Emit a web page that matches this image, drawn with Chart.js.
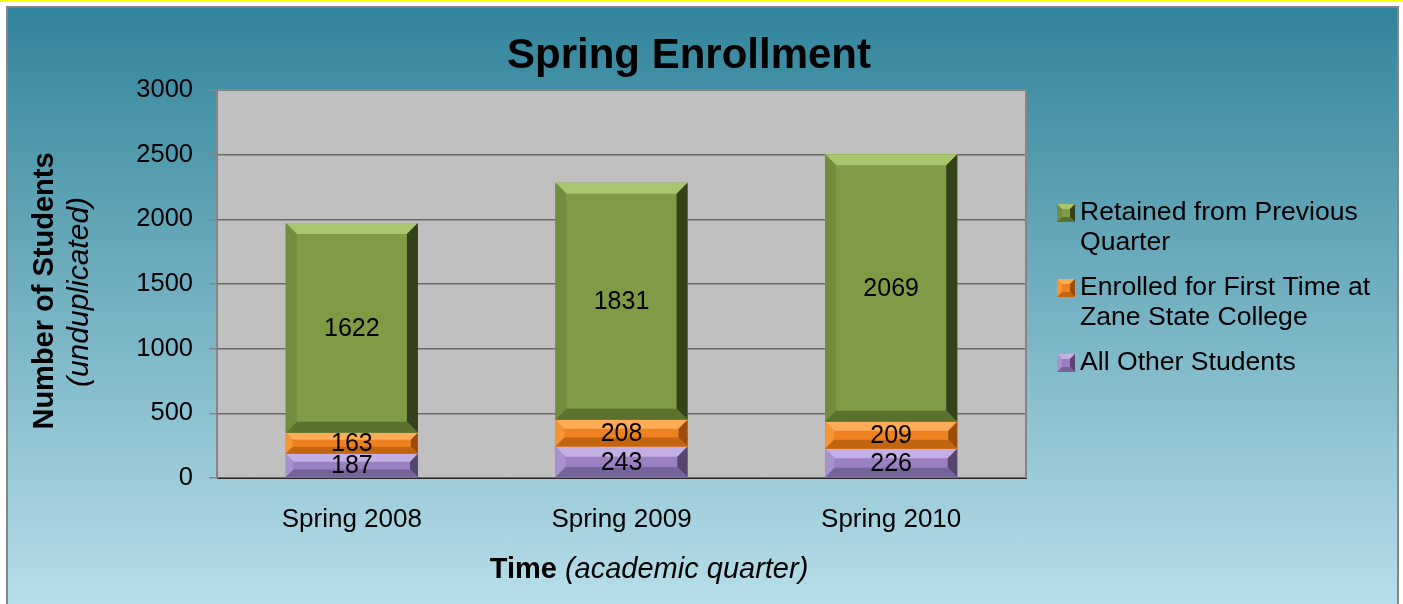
<!DOCTYPE html>
<html>
<head>
<meta charset="utf-8">
<script src="https://cdn.jsdelivr.net/npm/chart.js@4.4.1/dist/chart.umd.min.js"></script>
<style>
  html, body { margin: 0; padding: 0; background: #ffffff; overflow: hidden; }
  body { width: 1403px; height: 604px; position: relative; }
  #topline { position: absolute; left: 0; top: 0; width: 1403px; height: 2px; background: #ffff00; }
  #frame {
    position: absolute; left: 6px; top: 6px; width: 1389px; height: 600px;
    border: 2px solid #858585; border-bottom: none;
    background: linear-gradient(to bottom, #31849b 0%, #b8dfe9 100%);
  }
  canvas { display: block; }
</style>
</head>
<body>
<div id="topline"></div>
<div id="frame"><canvas id="chart" width="1389" height="598"></canvas></div>
<script>
// values
var categories = ['Spring 2008', 'Spring 2009', 'Spring 2010'];
var retained = [1622, 1831, 2069];
var firstTime = [163, 208, 209];
var otherStudents = [187, 243, 226];
var seriesNames = ['All Other Students', 'Enrolled for First Time at Zane State College', 'Retained from Previous Quarter'];
var legendLines = [['All Other Students'], ['Enrolled for First Time at', 'Zane State College'], ['Retained from Previous', 'Quarter']];
var yMax = 3000;
var yStep = 500;

// bevel shades for each series (body, top, left, right, bottom)
var shades = [
  { body: '#9a80c1', top: '#c4aee6', left: '#a892cd', right: '#55456f', bottom: '#76639a' },
  { body: '#ef8220', top: '#ffab58', left: '#f59634', right: '#9c4c0a', bottom: '#c3650f' },
  { body: '#7f9b46', top: '#a8c66e', left: '#728d3d', right: '#34421a', bottom: '#5b722f' }
];

var FONT = '"Liberation Sans", Arial, sans-serif';

function poly(ctx, pts, color) {
  ctx.beginPath();
  ctx.moveTo(pts[0][0], pts[0][1]);
  for (var i = 1; i < pts.length; i++) ctx.lineTo(pts[i][0], pts[i][1]);
  ctx.closePath();
  ctx.fillStyle = color;
  ctx.fill();
}

function bevelBox(ctx, L, T, R, B, b, st) {
  ctx.fillStyle = st.body;
  ctx.fillRect(L, T, R - L, B - T);
  poly(ctx, [[L, T], [R, T], [R - b, T + b], [L + b, T + b]], st.top);
  poly(ctx, [[L, T], [L + b, T + b], [L + b, B - b], [L, B]], st.left);
  poly(ctx, [[R, T], [R, B], [R - b, B - b], [R - b, T + b]], st.right);
  poly(ctx, [[L, B], [R, B], [R - b, B - b], [L + b, B - b]], st.bottom);
}

var plotBg = {
  id: 'plotBg',
  beforeDraw: function(chart) {
    var a = chart.chartArea, ctx = chart.ctx;
    ctx.save();
    ctx.fillStyle = '#c0c0c0';
    ctx.fillRect(a.left, a.top, a.right - a.left, a.bottom - a.top);
    ctx.restore();
  },
  afterDraw: function(chart) {
    var a = chart.chartArea, ctx = chart.ctx;
    ctx.save();
    ctx.strokeStyle = '#858585';
    ctx.lineWidth = 2;
    ctx.beginPath();
    ctx.moveTo(a.left, a.top);
    ctx.lineTo(a.right, a.top);
    ctx.lineTo(a.right, a.bottom);
    ctx.stroke();
    ctx.restore();
  }
};

var bevel = {
  id: 'bevel',
  afterDatasetsDraw: function(chart) {
    var ctx = chart.ctx;
    ctx.save();
    var boxes = [];
    chart.data.datasets.forEach(function(ds, i) {
      chart.getDatasetMeta(i).data.forEach(function(bar, j) {
        var p = bar.getProps(['x', 'y', 'base', 'width'], true);
        var L = p.x - p.width / 2, R = p.x + p.width / 2;
        var T = Math.min(p.y, p.base), B = Math.max(p.y, p.base);
        var b = Math.min(11, (B - T) / 3);
        bevelBox(ctx, L, T, R, B, b, shades[i]);
        boxes.push({ x: p.x, y: (T + B) / 2, v: ds.data[j] });
      });
    });
    ctx.fillStyle = '#000';
    ctx.font = '25px ' + FONT;
    ctx.textAlign = 'center';
    ctx.textBaseline = 'middle';
    boxes.forEach(function(o) { ctx.fillText(String(o.v), o.x, o.y + 1); });
    ctx.restore();
  }
};

var texts = {
  id: 'texts',
  afterDraw: function(chart) {
    var ctx = chart.ctx;
    ctx.save();
    ctx.fillStyle = '#000';

    // title
    ctx.font = 'bold 42px ' + FONT;
    ctx.textAlign = 'center';
    ctx.textBaseline = 'alphabetic';
    ctx.fillText('Spring Enrollment', 681, 60);

    // y axis title
    ctx.save();
    ctx.translate(45, 283);
    ctx.rotate(-Math.PI / 2);
    ctx.font = 'bold 29px ' + FONT;
    ctx.fillText('Number of Students', 0, 0);
    ctx.restore();
    ctx.save();
    ctx.translate(80, 284);
    ctx.rotate(-Math.PI / 2);
    ctx.font = 'italic 30px ' + FONT;
    ctx.fillText('(unduplicated)', 0, 0);
    ctx.restore();

    // x axis title
    ctx.textAlign = 'left';
    ctx.font = 'bold 29px ' + FONT;
    var w1 = ctx.measureText('Time ').width;
    ctx.font = 'italic 29px ' + FONT;
    var w2 = ctx.measureText('(academic quarter)').width;
    var x0 = 641 - (w1 + w2) / 2;
    ctx.font = 'bold 29px ' + FONT;
    ctx.fillText('Time ', x0, 570);
    ctx.font = 'italic 29px ' + FONT;
    ctx.fillText('(academic quarter)', x0 + w1, 570);

    // legend, top series first
    ctx.font = '26.6px ' + FONT;
    ctx.textBaseline = 'middle';
    var y = 205;
    for (var i = legendLines.length - 1; i >= 0; i--) {
      bevelBox(ctx, 1049, y - 9, 1067, y + 9, 5, shades[i]);
      ctx.fillStyle = '#000';
      legendLines[i].forEach(function(line, k) {
        ctx.fillText(line, 1072, y + k * 29.5);
      });
      y += 75;
    }
    ctx.restore();
  }
};

new Chart(document.getElementById('chart'), {
  type: 'bar',
  data: {
    labels: categories,
    datasets: [
      { label: seriesNames[0], data: otherStudents, backgroundColor: shades[0].body },
      { label: seriesNames[1], data: firstTime, backgroundColor: shades[1].body },
      { label: seriesNames[2], data: retained, backgroundColor: shades[2].body }
    ]
  },
  options: {
    responsive: false,
    animation: false,
    devicePixelRatio: 1,
    layout: { padding: { left: 119, right: 371, top: 82, bottom: 68 } },
    datasets: { bar: { barPercentage: 0.49, categoryPercentage: 1 } },
    plugins: {
      legend: { display: false },
      title: { display: false },
      tooltip: { enabled: false }
    },
    scales: {
      x: {
        stacked: true,
        grid: { display: false, drawTicks: false },
        border: { display: true, color: '#2a2a2a', width: 1 },
        ticks: { color: '#000', font: { family: FONT, size: 26 }, padding: 26 },
        afterFit: function(s) { s.height = 60; }
      },
      y: {
        stacked: true,
        min: 0,
        max: yMax,
        grid: { color: '#6a6a6a', lineWidth: 1.5, tickLength: 8, tickColor: '#858585' },
        border: { display: true, color: '#858585', width: 2 },
        ticks: {
          stepSize: yStep, color: '#000', font: { family: FONT, size: 25.5 }, padding: 16,
          callback: function(v) { return String(v); }
        },
        afterFit: function(s) { s.width = 90; }
      }
    }
  },
  plugins: [plotBg, bevel, texts]
});
</script>
</body>
</html>
